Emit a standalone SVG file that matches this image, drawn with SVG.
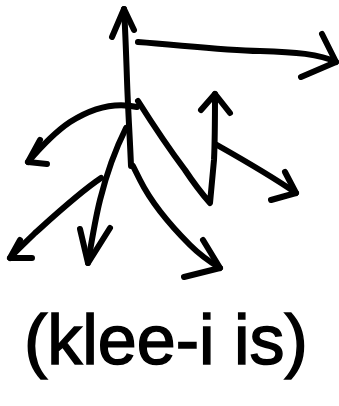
<svg xmlns="http://www.w3.org/2000/svg" width="339" height="406" viewBox="0 0 339 406">
<style>
.s{fill:none;stroke:#000;stroke-width:6;stroke-linecap:round;stroke-linejoin:round}
.t{font-family:"Liberation Sans",Arial,sans-serif;font-size:70px;fill:#000;stroke:#000;stroke-width:1.5}
</style>
<rect width="339" height="406" fill="#fff"/>
<g id="connectors">
<path class="s" d="M131,166 C130,140 128,110 127,80 C126,50 125,25 124,9"/>
<path class="s" d="M112,37 L124,9 L134,30"/>
<path class="s" d="M138,42 C180,45 220,50 260,51 C295,52 320,54 336,62"/>
<path class="s" d="M322,34 L336,62 L301,77"/>
<path class="s" d="M137,107 C115,102 92,108 70,122 C55,132 40,148 28,162"/>
<path class="s" d="M40,140 L28,162 L47,164"/>
<path class="s" d="M126,128 C115,150 105,180 100,200 C95,220 91,245 88,263"/>
<path class="s" d="M80,229 L88,263 L110,228"/>
<path class="s" d="M101,178 C80,192 55,215 35,233 C25,243 17,250 10,258"/>
<path class="s" d="M20,240 L10,258 L32,258"/>
<path class="s" d="M133,166 L140,180 C150,200 170,225 190,245 C200,255 210,262 220,268"/>
<path class="s" d="M203,240 L220,268 L184,277"/>
<path class="s" d="M138,101 C150,120 170,150 185,170 C195,185 203,195 210,203 L214,160 C215,140 215,115 215,94"/>
<path class="s" d="M201,110 L215,94 L230,113"/>
<path class="s" d="M217,145 C240,158 270,175 296,193"/>
<path class="s" d="M285,172 L296,193 L271,200"/>
</g>
<g id="label">
<text class="t" x="24" y="364">(klee-i is)</text>
</g>
</svg>
